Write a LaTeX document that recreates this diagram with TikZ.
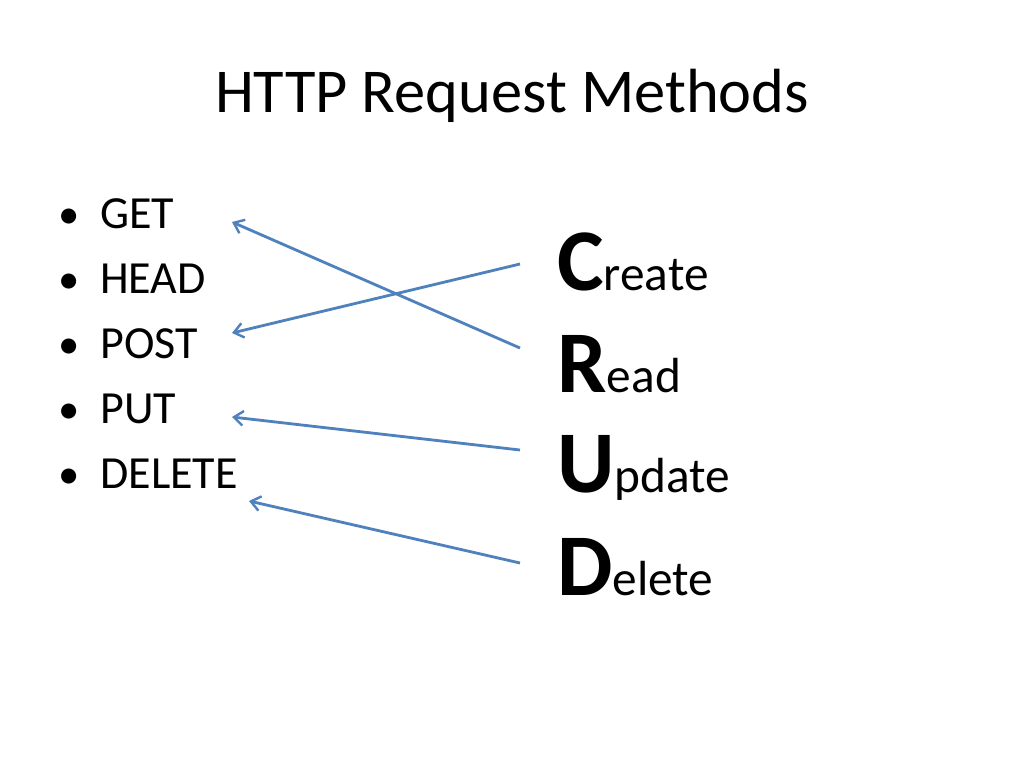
\documentclass[tikz,border=0pt]{standalone}
\usepackage{fontspec}
\setmainfont{Carlito}
\usepackage{xcolor}
\usetikzlibrary{positioning, arrows.meta, calc}
\definecolor{slideblue}{HTML}{4F81BD}

\begin{document}
\begin{tikzpicture}[x=0.75pt, y=-0.75pt,
    txt/.style={inner sep=0pt, anchor=base west},
    item/.style={txt, font=\fontsize{34.5}{40}\selectfont},
    crud/.style={txt, font=\fontsize{37}{46}\selectfont},
    link/.style={slideblue, line width=2.1pt, -{Straight Barb[length=7pt, width=11pt, line width=1.8pt]}}]
    \useasboundingbox[fill=white] (0,0) rectangle (1024,768);

    % Title
    \node[inner sep=0pt, anchor=base, font=\fontsize{46.8}{56}\selectfont] (title) at (512,112) {HTTP Request Methods};

    % Request methods
    \node[item] (get) at (100,228) {GET};
    \node[item] (head) at (100,293) {HEAD};
    \node[item] (post) at (100,358) {POST};
    \node[item] (put) at (100,423) {PUT};
    \node[item] (delete) at (100,488) {DELETE};
    \foreach \y in {228,293,358,423,488}
        \node[inner sep=0pt, anchor=base, font=\fontsize{32}{36}\selectfont] at (69,\y) {•};

    % CRUD
    \node[crud] (create) at (557,290) {{\bfseries\fontsize{66}{80}\selectfont C}reate};
    \node[crud] (read) at (557,392) {{\bfseries\fontsize{66}{80}\selectfont R}ead};
    \node[crud] (update) at (557,492) {{\bfseries\fontsize{66}{80}\selectfont U}pdate};
    \node[crud] (remove) at (557,595) {{\bfseries\fontsize{66}{80}\selectfont D}elete};

    % Mapping
    \draw[link] ($(read.base west)+(-37,-44)$) -- ($(get.base west)+(132,-6)$);
    \draw[link] ($(create.base west)+(-37,-26)$) -- ($(post.base west)+(132,-25)$);
    \draw[link] ($(update.base west)+(-37,-42)$) -- ($(put.base west)+(132,-6)$);
    \draw[link] ($(remove.base west)+(-37,-32)$) -- ($(delete.base west)+(149,13)$);
\end{tikzpicture}
\end{document}
